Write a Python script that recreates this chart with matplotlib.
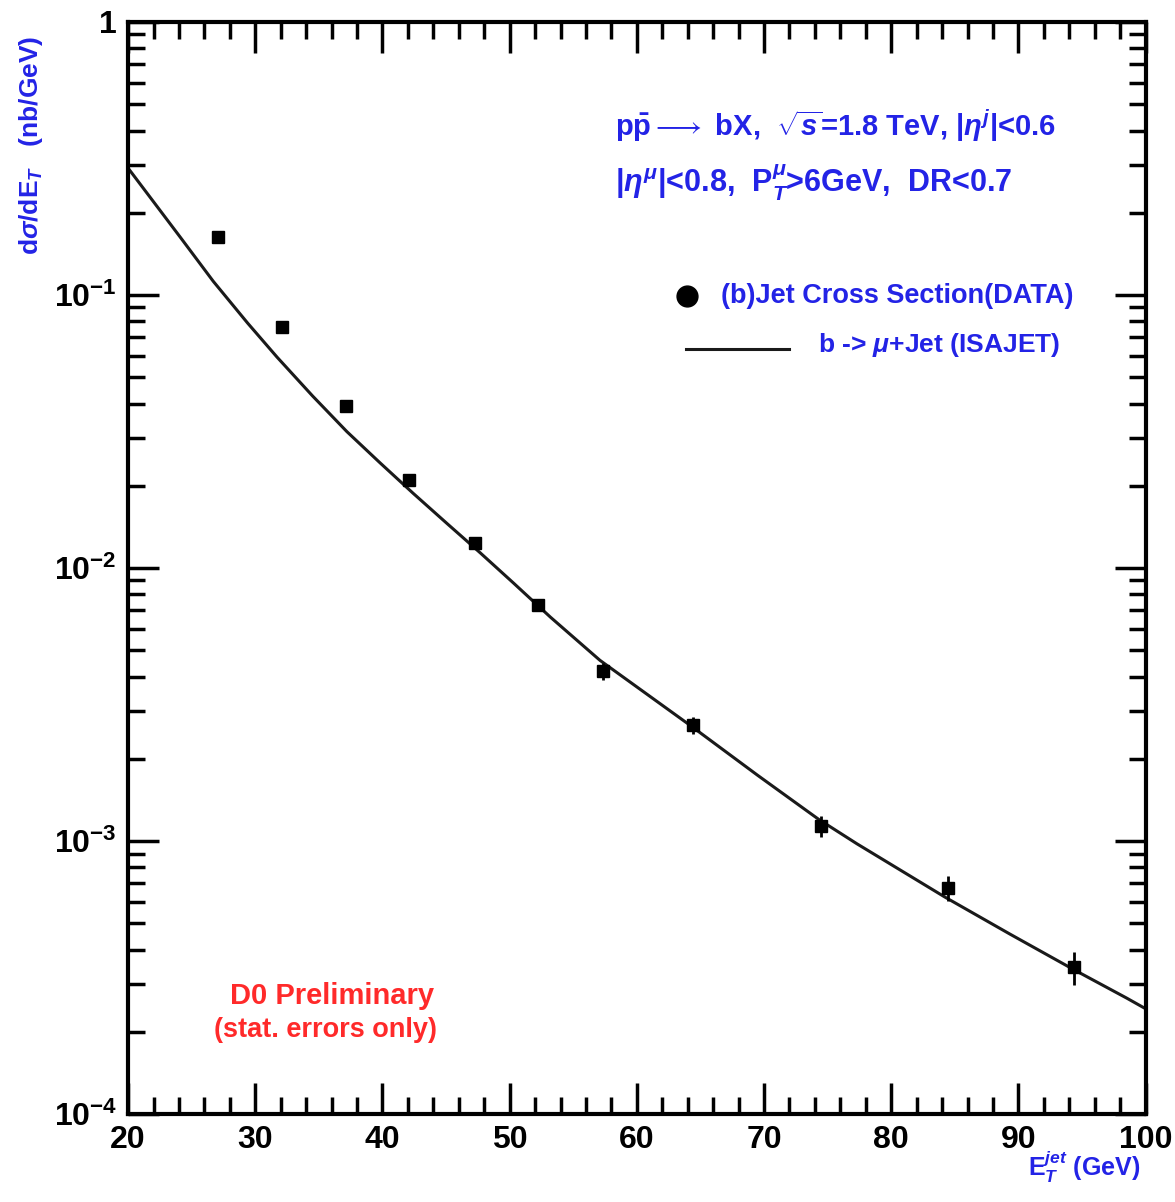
import matplotlib
matplotlib.use("Agg")
from matplotlib import pyplot as plt
from matplotlib.ticker import FixedLocator, LogLocator, NullFormatter

plt.rcParams['font.family'] = ['Liberation Sans', 'DejaVu Sans']
plt.rcParams['mathtext.fontset'] = 'custom'
plt.rcParams['mathtext.rm'] = 'Liberation Sans:bold'
plt.rcParams['mathtext.it'] = 'Liberation Sans:bold:italic'
plt.rcParams['mathtext.bf'] = 'Liberation Sans:bold'

# (b)jet cross section, data points
et_data = [27.1, 32.1, 37.1, 42.1, 47.3, 52.2, 57.3, 64.4, 74.5, 84.5, 94.4]
xs_data = [0.163, 0.0763, 0.0392, 0.0210, 0.01235, 0.00732, 0.00420,
           0.00266, 0.001135, 0.000673, 0.000345]
xs_err = [0.003, 0.0014, 0.0008, 0.0005, 0.0003, 0.0002, 0.0003,
          0.00019, 0.0001, 0.00007, 0.000047]

# ISAJET b -> mu + jet prediction
et_isajet = [20.0, 24.1, 26.7, 29.4, 31.7, 34.5, 37.2, 39.8, 42.4, 45.1,
             47.7, 50.3, 53.2, 57.1, 64.3, 69.5, 74.3, 77.3, 84.2, 89.3,
             94.4, 98.5, 100.0]
xs_isajet = [0.2917, 0.1629, 0.1122, 0.0789, 0.0593, 0.0427, 0.0316,
             0.0243, 0.0188, 0.01452, 0.01135, 0.00881, 0.00661, 0.00459,
             0.00263, 0.00174, 0.00120, 0.000977, 0.000624, 0.000457,
             0.000337, 0.000266, 0.000243]

blue = '#2323e6'
red = '#ff2a2a'

fig = plt.figure(figsize=(11.75, 12.02), dpi=100)
ax = fig.add_axes([0.109, 0.0732, 0.866, 0.9085])

ax.plot(et_isajet, xs_isajet, color='#1a1a1a', lw=2.2, solid_joinstyle='round')
ax.errorbar(et_data, xs_data, yerr=xs_err, fmt='s', color='black',
            ms=8, elinewidth=2, capsize=0)

ax.set_yscale('log')
ax.set_xlim(20, 100)
ax.set_ylim(1e-4, 1)

ax.xaxis.set_major_locator(FixedLocator(range(20, 101, 10)))
ax.xaxis.set_minor_locator(FixedLocator(range(20, 101, 2)))
ax.yaxis.set_minor_locator(LogLocator(base=10, subs=range(2, 10), numticks=10))
ax.yaxis.set_minor_formatter(NullFormatter())
ax.set_yticks([1e-4, 1e-3, 1e-2, 1e-1, 1])
ax.set_yticklabels([r'$10^{-4}$', r'$10^{-3}$', r'$10^{-2}$', r'$10^{-1}$', '1'])

ax.tick_params(which='both', direction='in', top=True, right=True,
               width=2.5, labelsize=23)
ax.tick_params(which='major', length=22, pad=8)
ax.tick_params(which='minor', length=12)
for lab in ax.get_xticklabels() + ax.get_yticklabels():
    lab.set_fontweight('bold')
for s in ax.spines.values():
    s.set_linewidth(3)

# axis titles
fig.text(0.026, 0.879, r'd$\sigma$/dE$_T$   (nb/GeV)', color=blue, fontsize=19,
         fontweight='bold', rotation=90, ha='center', va='center')
fig.text(0.971, 0.014, r'E$_T^{jet}$ (GeV)', color=blue, fontsize=18,
         fontweight='bold', ha='right', va='bottom')

# selection cuts
ax.text(0.479, 0.905, r'p$\bar{\rm p}$$\longrightarrow$ bX,  $\sqrt{s}$=1.8 TeV, |$\eta^{j}$|<0.6',
        transform=ax.transAxes, color=blue, fontsize=21, fontweight='bold',
        ha='left', va='center')
ax.text(0.479, 0.853, r'|$\eta^{\mu}$|<0.8,  P$^{\mu}_T$>6GeV,  DR<0.7',
        transform=ax.transAxes, color=blue, fontsize=22, fontweight='bold',
        ha='left', va='center')

# legend drawn by hand
ax.plot([0.549], [0.749], 'o', color='black', ms=15, transform=ax.transAxes)
ax.text(0.583, 0.749, '(b)Jet Cross Section(DATA)', transform=ax.transAxes,
        color=blue, fontsize=19.5, fontweight='bold', ha='left', va='center')
ax.plot([0.548, 0.650], [0.701, 0.701], color='#1a1a1a', lw=2.2,
        transform=ax.transAxes)
ax.text(0.678, 0.704, r'b -> $\mu$+Jet (ISAJET)', transform=ax.transAxes,
        color=blue, fontsize=19, fontweight='bold', ha='left', va='center')

ax.text(0.2, 0.108, 'D0 Preliminary', transform=ax.transAxes, color=red,
        fontsize=21, fontweight='bold', ha='center', va='center')
ax.text(0.194, 0.077, '(stat. errors only)', transform=ax.transAxes, color=red,
        fontsize=19.5, fontweight='bold', ha='center', va='center')

fig.savefig('out.png', dpi=100)
